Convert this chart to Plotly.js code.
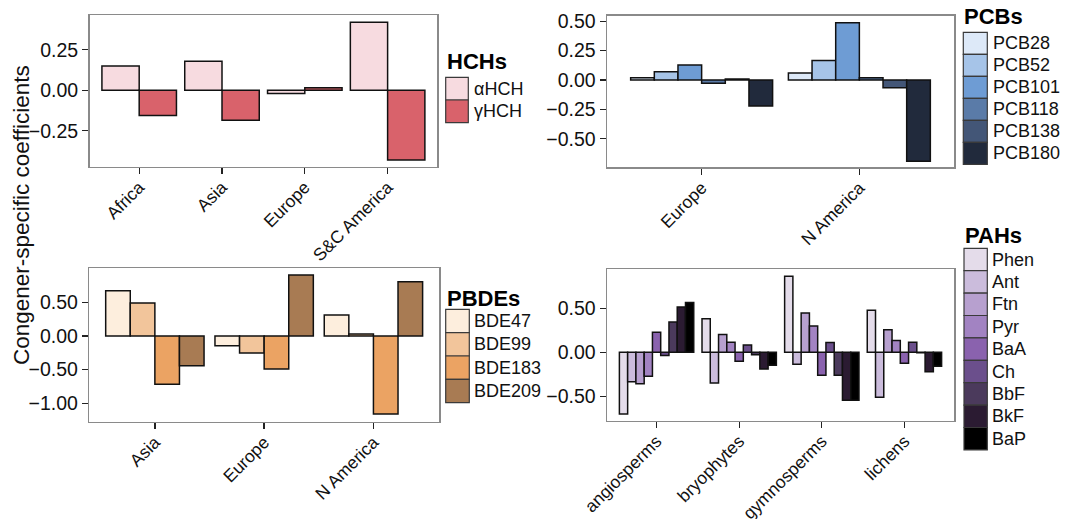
<!DOCTYPE html>
<html>
<head>
<meta charset="utf-8">
<script src="https://cdn.plot.ly/plotly-3.0.1.min.js"></script>
<style>html,body{margin:0;padding:0;background:#fff;}</style>
</head>
<body>
<div id="chart" style="width:1065px;height:519px;"></div>
<script>
// ---------------- DATA ----------------
const hchCategories = ["Africa", "Asia", "Europe", "S&C America"];
const hchNames = ["\u03b1HCH", "\u03b3HCH"];
const hchAlpha = [0.15, 0.18, -0.02, 0.42];
const hchGamma = [-0.155, -0.185, 0.015, -0.43];

const pcbCategories = ["Europe", "N America"];
const pcbNames = ["PCB28", "PCB52", "PCB101", "PCB118", "PCB138", "PCB180"];
const pcb28 = [0.02, 0.06];
const pcb52 = [0.07, 0.167];
const pcb101 = [0.128, 0.487];
const pcb118 = [-0.028, 0.02];
const pcb138 = [0.008, -0.065];
const pcb180 = [-0.22, -0.69];

const pbdeCategories = ["Asia", "Europe", "N America"];
const pbdeNames = ["BDE47", "BDE99", "BDE183", "BDE209"];
const bde47 = [0.673, -0.144, 0.312];
const bde99 = [0.49, -0.253, 0.03];
const bde183 = [-0.718, -0.49, -1.16];
const bde209 = [-0.44, 0.906, 0.807];

const pahCategories = ["angiosperms", "bryophytes", "gymnosperms", "lichens"];
const pahNames = ["Phen", "Ant", "Ftn", "Pyr", "BaA", "Ch", "BbF", "BkF", "BaP"];
const phen = [-0.70, 0.38, 0.865, 0.478];
const ant = [-0.335, -0.35, -0.137, -0.512];
const ftn = [-0.358, 0.203, 0.447, 0.256];
const pyr = [-0.273, 0.115, 0.30, 0.134];
const baa = [0.229, -0.102, -0.262, -0.125];
const ch = [-0.035, 0.083, 0.11, 0.115];
const bbf = [0.345, -0.027, -0.262, -0.006];
const bkf = [0.515, -0.19, -0.546, -0.222];
const bap = [0.566, -0.148, -0.546, -0.158];

const yTitle = "Congener-specific coefficients";

// ---------------- STYLE ----------------
const hchColors = ["#f7dbe0", "#d9626b"];
const pcbColors = ["#dde9f8", "#a6c4e8", "#6e9cd4", "#5a7ba8", "#435677", "#212a3c"];
const pbdeColors = ["#fdeedd", "#f2c59b", "#eba363", "#a87b53"];
const pahColors = ["#e4dcea", "#cbbcdc", "#b7a0cf", "#a283c2", "#8a62ae", "#6b4f8c", "#4b3a5c", "#2b1b32", "#000000"];

const W = 1065, H = 519;
const FONT = "Liberation Sans, Arial, Helvetica, sans-serif";
const px = p => p / W;
const py = p => 1 - p / H;

const traces = [];
function addGroup(cats, names, seriesList, colors, xa, ya) {
  seriesList.forEach((vals, i) => {
    traces.push({
      type: "bar",
      x: cats,
      y: vals,
      name: names[i],
      xaxis: xa,
      yaxis: ya,
      marker: { color: colors[i], line: { color: "#111", width: 1.5 } },
      showlegend: false,
      hoverinfo: "x+y+name"
    });
  });
}
addGroup(hchCategories, hchNames, [hchAlpha, hchGamma], hchColors, "x", "y");
addGroup(pcbCategories, pcbNames, [pcb28, pcb52, pcb101, pcb118, pcb138, pcb180], pcbColors, "x2", "y2");
addGroup(pbdeCategories, pbdeNames, [bde47, bde99, bde183, bde209], pbdeColors, "x3", "y3");
addGroup(pahCategories, pahNames, [phen, ant, ftn, pyr, baa, ch, bbf, bkf, bap], pahColors, "x4", "y4");

function xAxis(d0, d1, n, anchor) {
  return {
    domain: [px(d0), px(d1)], anchor: anchor, type: "category",
    range: [-0.6, n - 1 + 0.6],
    showline: true, mirror: true, linecolor: "#8a8a8a", linewidth: 1.5,
    ticks: "outside", ticklen: 6, tickwidth: 1.3, tickcolor: "#222",
    ticklabelstandoff: -4,
    tickangle: -45, tickfont: { family: FONT, size: 17.5, color: "#111" },
    showgrid: false, zeroline: false, fixedrange: true
  };
}
function yAxis(top, bottom, r, tv, anchor) {
  return {
    domain: [py(bottom), py(top)], anchor: anchor,
    range: r, tickvals: tv, tickformat: ".2f",
    showline: true, mirror: true, linecolor: "#8a8a8a", linewidth: 1.5,
    ticks: "outside", ticklen: 6, tickwidth: 1.3, tickcolor: "#222",
    tickfont: { family: FONT, size: 19.5, color: "#111" },
    showgrid: false, zeroline: false, fixedrange: true
  };
}

const shapes = [];
const annotations = [];
function addLegend(title, names, colors, x0, x1, top, itemH, titleY, labelX) {
  annotations.push({
    xref: "paper", yref: "paper", x: px(x0 - 1), y: py(titleY),
    xanchor: "left", yanchor: "middle", showarrow: false,
    text: "<b>" + title + "</b>", font: { family: FONT, size: 22, color: "#000" }
  });
  names.forEach((nm, i) => {
    const t = top + i * itemH, b = t + itemH;
    shapes.push({
      type: "rect", xref: "paper", yref: "paper",
      x0: px(x0), x1: px(x1), y0: py(b), y1: py(t),
      fillcolor: colors[i], line: { color: "#3a3a3a", width: 1.2 }
    });
    annotations.push({
      xref: "paper", yref: "paper", x: px(labelX), y: py((t + b) / 2),
      xanchor: "left", yanchor: "middle", showarrow: false,
      text: nm, font: { family: FONT, size: 18, color: "#111" }
    });
  });
}
addLegend("HCHs", hchNames, hchColors, 445.7, 468.3, 77.3, 22.7, 62, 472);
addLegend("PCBs", pcbNames, pcbColors, 963.3, 987.3, 32.3, 22, 17, 991);
addLegend("PBDEs", pbdeNames, pbdeColors, 445.7, 469.3, 309.3, 23.35, 298, 472);
addLegend("PAHs", pahNames, pahColors, 964, 987.3, 248.3, 22.4, 235, 990);

annotations.push({
  xref: "paper", yref: "paper", x: px(21), y: py(215),
  xanchor: "center", yanchor: "middle", showarrow: false, textangle: -90,
  text: yTitle, font: { family: FONT, size: 22.5, color: "#111" }
});

const layout = {
  width: W, height: H,
  margin: { l: 0, r: 0, t: 0, b: 0, pad: 0 },
  paper_bgcolor: "#fff", plot_bgcolor: "#fff",
  barmode: "group", bargap: 0.1, bargroupgap: 0,
  showlegend: false,
  xaxis: xAxis(89.5, 437.3, hchCategories.length, "y"),
  yaxis: yAxis(15, 166.7, [-0.472, 0.465], [-0.25, 0, 0.25], "x"),
  xaxis2: xAxis(607, 954, pcbCategories.length, "y2"),
  yaxis2: yAxis(15.7, 167.3, [-0.742, 0.547], [-0.5, -0.25, 0, 0.25, 0.5], "x2"),
  xaxis3: xAxis(89.3, 439, pbdeCategories.length, "y3"),
  yaxis3: yAxis(268.3, 421.7, [-1.273, 1.006], [-1, -0.5, 0, 0.5], "x3"),
  xaxis4: xAxis(607, 954, pahCategories.length, "y4"),
  yaxis4: yAxis(269.3, 420.7, [-0.777, 0.943], [-0.5, 0, 0.5], "x4"),
  shapes: shapes,
  annotations: annotations
};

Plotly.newPlot("chart", traces, layout, { displayModeBar: false, staticPlot: true });
</script>
</body>
</html>
